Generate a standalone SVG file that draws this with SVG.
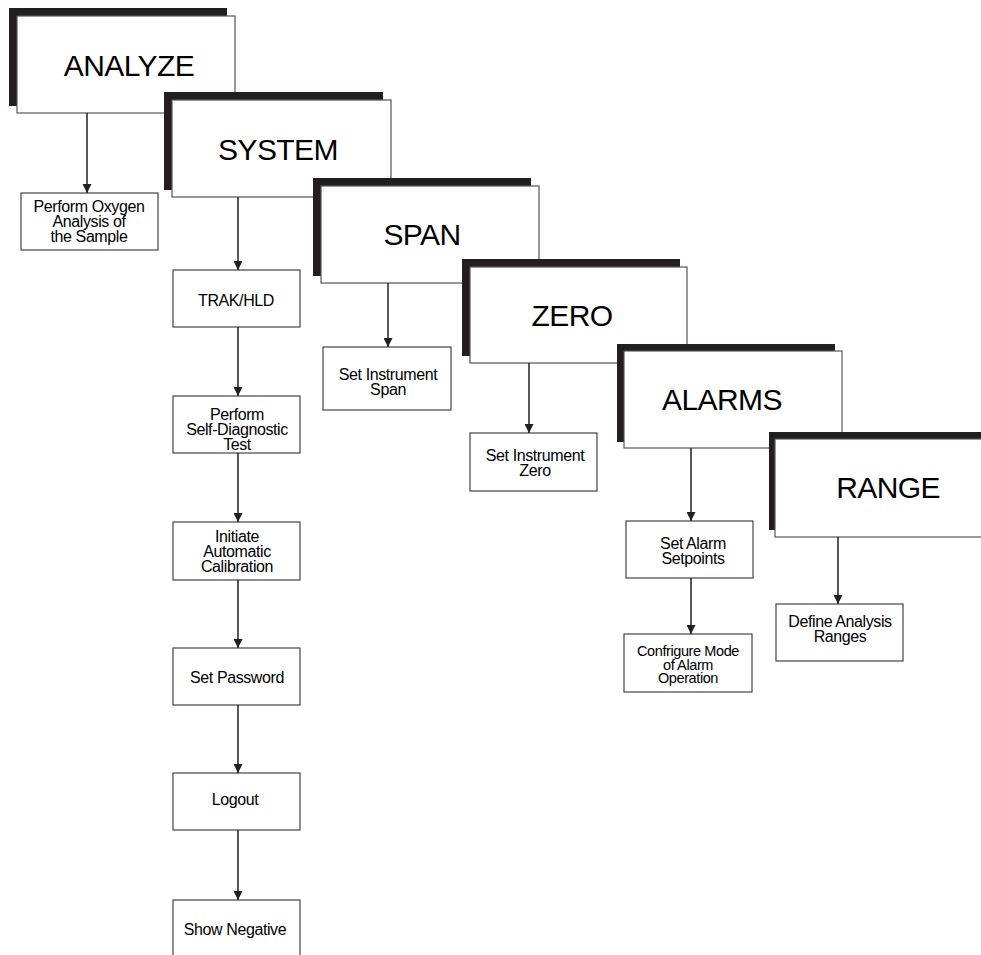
<svg xmlns="http://www.w3.org/2000/svg" width="981" height="955" viewBox="0 0 981 955">
<defs>
<style>
.sh{fill:#231f20}
.big{fill:#fff;stroke:#555;stroke-width:1.2}
.box{fill:#fff;stroke:#444;stroke-width:1.2}
.t1{font-family:"Liberation Sans",Arial,sans-serif;font-size:30px;fill:#000;text-anchor:middle;letter-spacing:-0.6px}
.t2{font-family:"Liberation Sans",Arial,sans-serif;font-size:16px;fill:#000;text-anchor:middle;letter-spacing:-0.4px}
.t3{font-family:"Liberation Sans",Arial,sans-serif;font-size:14.5px;fill:#000;text-anchor:middle;letter-spacing:-0.4px}
.ln{stroke:#231f20;stroke-width:1.5;fill:none;marker-end:url(#ah)}
</style>
<marker id="ah" viewBox="0 0 10 10" refX="10" refY="5" markerWidth="9" markerHeight="9" markerUnits="userSpaceOnUse" orient="auto">
<path d="M0,0 L10,5 L0,10 Z" fill="#231f20"/>
</marker>
</defs>
<rect width="981" height="955" fill="#fff"/>

<g id="analyze">
<rect class="sh" x="9" y="8" width="218" height="98"/>
<rect class="big" x="17" y="16" width="218" height="97"/>
<text class="t1" x="129" y="76">ANALYZE</text>
</g>
<g id="system">
<rect class="sh" x="164" y="92" width="219" height="98"/>
<rect class="big" x="172" y="100" width="219" height="97"/>
<text class="t1" x="278" y="160">SYSTEM</text>
</g>
<g id="span">
<rect class="sh" x="313" y="178" width="218" height="98"/>
<rect class="big" x="321" y="186" width="218" height="97"/>
<text class="t1" x="422" y="245">SPAN</text>
</g>
<g id="zero">
<rect class="sh" x="462" y="259" width="218" height="97"/>
<rect class="big" x="470" y="267" width="217" height="96"/>
<text class="t1" x="572" y="326">ZERO</text>
</g>
<g id="alarms">
<rect class="sh" x="617" y="344" width="218" height="98"/>
<rect class="big" x="624" y="351" width="218" height="97"/>
<text class="t1" x="722" y="410">ALARMS</text>
</g>
<g id="range">
<rect class="sh" x="769" y="432" width="219" height="98"/>
<rect class="big" x="775" y="439" width="219" height="98"/>
<text class="t1" x="888" y="498">RANGE</text>
</g>

<g id="oxygen">
<rect class="box" x="21" y="193" width="137" height="57"/>
<text class="t2" x="89" y="212">Perform Oxygen</text>
<text class="t2" x="89" y="227">Analysis of</text>
<text class="t2" x="89" y="242">the Sample</text>
</g>
<g id="trak">
<rect class="box" x="173" y="270" width="127" height="57"/>
<text class="t2" x="236" y="306">TRAK/HLD</text>
</g>
<g id="selfdiag">
<rect class="box" x="173" y="396" width="127" height="57"/>
<text class="t2" x="237" y="420">Perform</text>
<text class="t2" x="237" y="435">Self-Diagnostic</text>
<text class="t2" x="237" y="450">Test</text>
</g>
<g id="autocal">
<rect class="box" x="173" y="522" width="127" height="58"/>
<text class="t2" x="237" y="542">Initiate</text>
<text class="t2" x="237" y="557">Automatic</text>
<text class="t2" x="237" y="572">Calibration</text>
</g>
<g id="password">
<rect class="box" x="173" y="648" width="127" height="57"/>
<text class="t2" x="237" y="683">Set Password</text>
</g>
<g id="logout">
<rect class="box" x="173" y="773" width="127" height="57"/>
<text class="t2" x="235" y="805">Logout</text>
</g>
<g id="negative">
<rect class="box" x="173" y="900" width="127" height="58"/>
<text class="t2" x="235" y="935">Show Negative</text>
</g>
<g id="spanset">
<rect class="box" x="323" y="347" width="128" height="63"/>
<text class="t2" x="388" y="380">Set Instrument</text>
<text class="t2" x="388" y="395">Span</text>
</g>
<g id="zeroset">
<rect class="box" x="470" y="433" width="127" height="58"/>
<text class="t2" x="535" y="461">Set Instrument</text>
<text class="t2" x="535" y="476">Zero</text>
</g>
<g id="alarmset">
<rect class="box" x="626" y="521" width="127" height="57"/>
<text class="t2" x="693" y="549">Set Alarm</text>
<text class="t2" x="693" y="564">Setpoints</text>
</g>
<g id="alarmmode">
<rect class="box" x="624" y="634" width="128" height="58"/>
<text class="t3" x="688" y="656">Confrigure Mode</text>
<text class="t3" x="688" y="669.5">of Alarm</text>
<text class="t3" x="688" y="683">Operation</text>
</g>
<g id="ranges">
<rect class="box" x="776" y="604" width="127" height="57"/>
<text class="t2" x="840" y="627">Define Analysis</text>
<text class="t2" x="840" y="642">Ranges</text>
</g>

<g id="connectors">
<line class="ln" x1="87" y1="113" x2="87" y2="193"/>
<line class="ln" x1="238" y1="197" x2="238" y2="270"/>
<line class="ln" x1="238" y1="327" x2="238" y2="396"/>
<line class="ln" x1="238" y1="453" x2="238" y2="522"/>
<line class="ln" x1="238" y1="580" x2="238" y2="648"/>
<line class="ln" x1="238" y1="705" x2="238" y2="773"/>
<line class="ln" x1="238" y1="830" x2="238" y2="900"/>
<line class="ln" x1="388" y1="283" x2="388" y2="347"/>
<line class="ln" x1="529" y1="363" x2="529" y2="433"/>
<line class="ln" x1="691" y1="448" x2="691" y2="521"/>
<line class="ln" x1="691" y1="578" x2="691" y2="634"/>
<line class="ln" x1="838" y1="537" x2="838" y2="604"/>
</g>
</svg>
